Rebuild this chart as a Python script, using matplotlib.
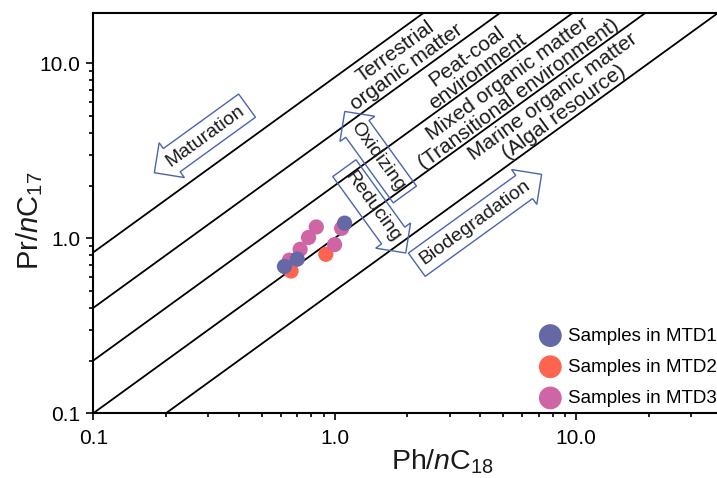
import numpy as np
import matplotlib.pyplot as plt
from matplotlib.ticker import FixedLocator, FixedFormatter, LogLocator, NullFormatter

plt.rcParams['font.family'] = ['Liberation Sans', 'DejaVu Sans']
plt.rcParams['mathtext.fontset'] = 'custom'
plt.rcParams['mathtext.rm'] = 'Liberation Sans'
plt.rcParams['mathtext.it'] = 'Liberation Sans:italic'

# sample values (Ph/nC18, Pr/nC17)
mtd1_ph = [0.62, 0.70, 1.10]
mtd1_pr = [0.69, 0.76, 1.22]
mtd2_ph = [0.66, 0.92]
mtd2_pr = [0.65, 0.81]
mtd3_ph = [0.65, 0.72, 0.78, 0.84, 1.00, 1.07]
mtd3_pr = [0.75, 0.865, 1.01, 1.16, 0.92, 1.14]

# boundary lines Pr/nC17 = k * Ph/nC18
line_ratios = [8.3, 4.0, 2.0, 1.0, 0.5]

tick_vals = [0.1, 1.0, 10.0]
tick_labels = ['0.1', '1.0', '10.0']

c_mtd1 = '#6668a6'
c_mtd2 = '#fe6450'
c_mtd3 = '#d065a6'
c_arrow = '#4a64b0'
c_text = '#1a1a1a'

fig = plt.figure(figsize=(7.17, 4.78), dpi=100)
ax = fig.add_axes([0.130, 0.1354, 0.870, 0.8368])

xmin, xmax = 0.1, 38.4
ymin, ymax = 0.1, 19.3
ax.set_xscale('log')
ax.set_yscale('log')
ax.set_xlim(xmin, xmax)
ax.set_ylim(ymin, ymax)

xs = np.array([xmin, xmax])
for k in line_ratios:
    ax.plot(xs, k * xs, color='black', lw=1.3, zorder=2)

ax.scatter(mtd2_ph, mtd2_pr, s=120, color=c_mtd2, edgecolors='none', zorder=3, label='Samples in MTD2')
ax.scatter(mtd3_ph, mtd3_pr, s=120, color=c_mtd3, edgecolors='none', zorder=3, label='Samples in MTD3')
ax.scatter(mtd1_ph, mtd1_pr, s=120, color=c_mtd1, edgecolors='none', zorder=3, label='Samples in MTD1')

# zone labels along the lines
ang = 35.9
zone_kw = dict(rotation=ang, rotation_mode='anchor', ha='center', va='center',
               fontsize=15, color=c_text, linespacing=1.0)
ax.text(1.88, 10.5, 'Terrestrial\norganic matter', **zone_kw)
ax.text(3.71, 9.9, 'Peat-coal\nenvironment', **zone_kw)
ax.text(5.5, 7.35, 'Mixed organic matter\n(Transitional environment)', **zone_kw)
ax.text(8.43, 5.85, 'Marine organic matter\n(Algal resource)', **zone_kw)

# hollow arrows
def arrow_text(x, y, s, rot, style):
    ax.text(x, y, s, rotation=rot, rotation_mode='anchor', ha='center', va='center',
            fontsize=14, color=c_text, zorder=4,
            bbox=dict(boxstyle=style + ',pad=0.3', fc='none', ec=c_arrow, lw=1.0))

arrow_text(0.29, 3.83, 'Maturation', ang, 'larrow')
arrow_text(3.82, 1.23, 'Biodegradation', ang, 'rarrow')
arrow_text(1.51, 2.91, 'Oxidizing', ang - 90, 'larrow')
arrow_text(1.43, 1.52, 'Reducing', ang - 90, 'rarrow')

# axes styling
ax.spines['right'].set_visible(False)
for side in ['left', 'bottom', 'top']:
    ax.spines[side].set_linewidth(1.5)

for axis in [ax.xaxis, ax.yaxis]:
    axis.set_major_locator(FixedLocator(tick_vals))
    axis.set_major_formatter(FixedFormatter(tick_labels))
    axis.set_minor_locator(LogLocator(base=10, subs=np.arange(2, 10)))
    axis.set_minor_formatter(NullFormatter())
ax.tick_params(which='both', direction='out', top=False, right=False, width=1.2, colors='black')
ax.tick_params(which='major', length=5, labelsize=15, pad=4)
ax.tick_params(which='minor', length=3)
ax.tick_params(axis='x', which='major', pad=6)

ax.set_xlabel(r'Ph/$\it{n}$C$_{18}$', fontsize=20.5, color=c_text)
ax.set_ylabel(r'Pr/$\it{n}$C$_{17}$', fontsize=21, color=c_text)
ax.xaxis.set_label_coords(0.56, -0.085)
ax.yaxis.set_label_coords(-0.078, 0.48)

handles, labels = ax.get_legend_handles_labels()
order = [2, 0, 1]
ax.legend([handles[i] for i in order], [labels[i] for i in order],
          loc='lower right', bbox_to_anchor=(1.0, 0.016), frameon=False,
          fontsize=13.5, markerscale=1.5, handletextpad=0.35, labelspacing=0.75,
          handlelength=1.2, borderpad=0, borderaxespad=0)

fig.savefig('out.png', dpi=100)
